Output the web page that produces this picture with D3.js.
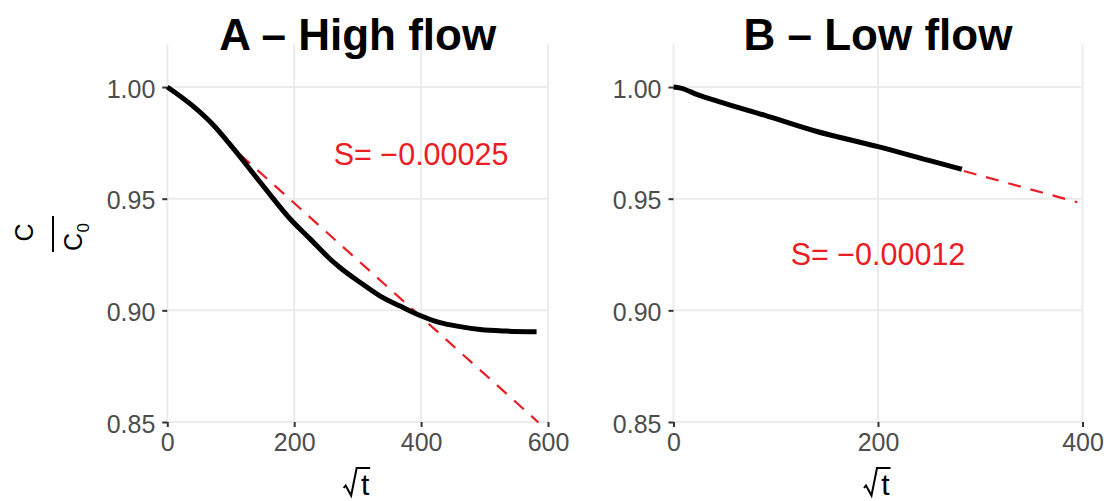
<!DOCTYPE html>
<html>
<head>
<meta charset="utf-8">
<script src="https://cdn.jsdelivr.net/npm/d3@7"></script>
<style>
  html, body { margin: 0; padding: 0; background: #fff; }
  svg { display: block; font-family: "Liberation Sans", Arial, Helvetica, sans-serif; }
</style>
</head>
<body>
<svg id="chart" width="1109" height="501"></svg>
<script>
// ---- data ----
const titleA = "A \u2013 High flow";
const titleB = "B \u2013 Low flow";

const tA = [0, 41, 72.5, 104, 135.5, 167, 193.4, 225, 256.5, 272, 304, 335.5, 367, 398.5, 430, 461.5, 493, 535, 582];
const cA = [1.000, 0.9913, 0.9830, 0.9725, 0.9613, 0.9500, 0.9410, 0.9320, 0.9230, 0.9192, 0.9125, 0.9064, 0.9019, 0.8977, 0.8945, 0.8927, 0.8914, 0.8907, 0.8904];

const tB = [0, 7, 24, 43.5, 89.5, 138.5, 200, 252.5, 282];
const cB = [1.000, 0.9995, 0.9965, 0.9936, 0.9873, 0.9803, 0.9733, 0.9668, 0.9632];

const fitAt = [115, 585];
const fitAc = [0.9697, 0.8498];
const fitBt = [284, 395];
const fitBc = [0.9624, 0.9484];

const labelA = "S= \u22120.00025";
const labelAPos = [400, 0.97];
const labelB = "S= \u22120.00012";
const labelBPos = [200, 0.925];

const yTicks = [0.85, 0.90, 0.95, 1.00];
const xTicksA = [0, 200, 400, 600];
const xTicksB = [0, 200, 400];
const yDomain = [0.85, 1.019];
const xDomainA = [0, 600];
const xDomainB = [0, 400];

// ---- drawing ----
const svg = d3.select("#chart");
const plotTop = 44.6, plotBottom = 422;
const red = "#ec1c24";

function panel(opts) {
  const x = d3.scaleLinear().domain(opts.xDomain).range([opts.left, opts.right]);
  const y = d3.scaleLinear().domain(yDomain).range([plotBottom, plotTop]);
  const g = svg.append("g");

  // gridlines
  g.selectAll(".gy").data(yTicks).join("line")
    .attr("x1", opts.left).attr("x2", opts.right)
    .attr("y1", d => y(d)).attr("y2", d => y(d))
    .attr("stroke", "#ebebeb").attr("stroke-width", 2);
  g.selectAll(".gx").data(opts.xTicks).join("line")
    .attr("x1", d => x(d)).attr("x2", d => x(d))
    .attr("y1", plotTop).attr("y2", plotBottom)
    .attr("stroke", "#ebebeb").attr("stroke-width", 2);

  // axes (ticks + labels)
  const yAxis = d3.axisLeft(y).tickValues(yTicks).tickFormat(d3.format(".2f")).tickSize(5).tickPadding(7);
  const ya = g.append("g").attr("transform", `translate(${opts.left},0)`).call(yAxis);
  ya.select(".domain").remove();
  ya.selectAll(".tick line").attr("stroke", "#333").attr("stroke-width", 2);
  ya.selectAll(".tick text").attr("fill", "#4d4d4d").style("font-size", "25px")
    .attr("font-family", null).attr("dy", "0.4em");

  const xAxis = d3.axisBottom(x).tickValues(opts.xTicks).tickFormat(d3.format("d")).tickSize(5).tickPadding(6);
  const xa = g.append("g").attr("transform", `translate(0,${plotBottom})`).call(xAxis);
  xa.select(".domain").remove();
  xa.selectAll(".tick line").attr("stroke", "#333").attr("stroke-width", 2);
  xa.selectAll(".tick text").attr("fill", "#4d4d4d").style("font-size", "25px")
    .attr("font-family", null).attr("dy", "0.72em");

  // fitted dashed line
  const line = d3.line().x(d => x(d[0])).y(d => y(d[1]));
  g.append("path").datum(d3.zip(opts.fitT, opts.fitC))
    .attr("d", line).attr("fill", "none")
    .attr("stroke", red).attr("stroke-width", 2.2).attr("stroke-dasharray", "13,10");

  // data curve
  g.append("path").datum(d3.zip(opts.t, opts.c))
    .attr("d", line.curve(d3.curveMonotoneX)).attr("fill", "none")
    .attr("stroke", "#000").attr("stroke-width", 5).attr("stroke-linejoin", "round");

  // annotation
  g.append("text").attr("x", x(opts.labelPos[0])).attr("y", y(opts.labelPos[1]))
    .attr("text-anchor", "middle").attr("dy", "0.36em")
    .attr("fill", red).style("font-size", "30.5px").text(opts.label);

  // title
  const cx = (opts.left + opts.right) / 2;
  g.append("text").attr("x", cx).attr("y", 50)
    .attr("text-anchor", "middle").style("font-size", "44px").style("font-weight", "bold")
    .attr("fill", "#000").text(opts.title);

  // x title: sqrt(t)
  const xc = cx - 1;
  g.append("path")
    .attr("d", `M${xc-13},488 L${xc-11},485.5 L${xc-5.5},495.5 L${xc},468 L${xc+13.5},468`)
    .attr("fill", "none").attr("stroke", "#000").attr("stroke-width", 2).attr("stroke-linejoin", "miter");
  g.append("text").attr("x", xc + 8.5).attr("y", 494.5)
    .attr("text-anchor", "middle").style("font-size", "30px").attr("fill", "#000").text("t");
}

panel({ left: 167.3, right: 548, xDomain: xDomainA, xTicks: xTicksA, t: tA, c: cA,
        fitT: fitAt, fitC: fitAc, label: labelA, labelPos: labelAPos, title: titleA });
panel({ left: 673.5, right: 1082.5, xDomain: xDomainB, xTicks: xTicksB, t: tB, c: cB,
        fitT: fitBt, fitC: fitBc, label: labelB, labelPos: labelBPos, title: titleB });

// y title: C / C0 fraction, rotated
const yt = svg.append("g").attr("transform", "translate(53,234) rotate(-90)");
yt.append("text").attr("x", 1.5).attr("y", -20).attr("text-anchor", "middle")
  .style("font-size", "25px").attr("fill", "#000").text("C");
yt.append("line").attr("x1", -18).attr("x2", 18).attr("y1", 0).attr("y2", 0)
  .attr("stroke", "#000").attr("stroke-width", 2);
yt.append("text").attr("x", -17).attr("y", 29).attr("text-anchor", "start")
  .style("font-size", "25px").attr("fill", "#000").text("C");
yt.append("text").attr("x", 1.5).attr("y", 36).attr("text-anchor", "start")
  .style("font-size", "17px").attr("fill", "#000").text("0");
</script>
</body>
</html>
